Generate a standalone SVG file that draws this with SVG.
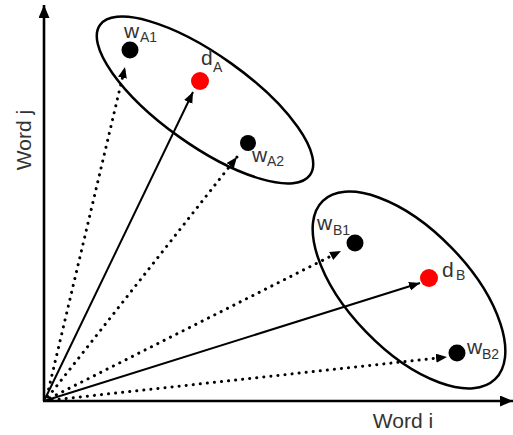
<svg xmlns="http://www.w3.org/2000/svg" width="513" height="435" viewBox="0 0 513 435">
<defs>
<marker id="ah" markerUnits="userSpaceOnUse" markerWidth="12" markerHeight="10" refX="11" refY="4.5" orient="auto">
<path d="M0,0 L11,4.5 L0,9 Z" fill="#000"/>
</marker>
<marker id="axh" markerUnits="userSpaceOnUse" markerWidth="14" markerHeight="12" refX="13" refY="5.5" orient="auto">
<path d="M0,0 L13,5.5 L0,11 Z" fill="#000"/>
</marker>
<style>
.axis{stroke:#000;stroke-width:2.6;fill:none}
.solid{stroke:#000;stroke-width:2;fill:none}
.dot{stroke:#000;stroke-width:3;fill:none;stroke-dasharray:0.1 7;stroke-linecap:round}
.ell{stroke:#000;stroke-width:2.5;fill:none}
.lbl{font-family:"Liberation Sans",Arial,sans-serif;font-size:21px;fill:#333}
.sub{font-family:"Liberation Sans",Arial,sans-serif;font-size:14px;fill:#333}
</style>
</defs>
<rect width="513" height="435" fill="#fff"/>
<g id="axes">
<line class="axis" x1="44" y1="401" x2="44" y2="5" marker-end="url(#axh)"/>
<line class="axis" x1="43" y1="401" x2="513" y2="401" marker-end="url(#axh)"/>
<text class="lbl" transform="translate(31,140) rotate(-90)" text-anchor="middle">Word j</text>
<text class="lbl" x="403" y="428" text-anchor="middle">Word i</text>
</g>
<g id="clusterA">
<ellipse class="ell" cx="205" cy="100" rx="129" ry="45" transform="rotate(35.5 205 100)"/>
</g>
<g id="clusterB">
<ellipse class="ell" cx="409" cy="290" rx="124" ry="60" transform="rotate(46 409 290)"/>
</g>
<g id="wA1"><circle cx="130" cy="50" r="8.5" fill="#000"/><text class="lbl" x="124" y="38">w</text><text class="sub" x="140" y="42">A1</text></g>
<g id="dA"><circle cx="200" cy="81" r="9" fill="#f00"/><text class="lbl" x="201" y="65">d</text><text class="sub" x="213" y="72">A</text></g>
<g id="wA2"><circle cx="248" cy="143" r="8" fill="#000"/><text class="lbl" x="252" y="162">w</text><text class="sub" x="267" y="166">A2</text></g>
<g id="wB1"><circle cx="355" cy="243" r="8.5" fill="#000"/><text class="lbl" x="317" y="230">w</text><text class="sub" x="333" y="235">B1</text></g>
<g id="dB"><circle cx="429" cy="278" r="9" fill="#f00"/><text class="lbl" x="442" y="277">d</text><text class="sub" x="456" y="280">B</text></g>
<g id="wB2"><circle cx="457" cy="353" r="8.5" fill="#000"/><text class="lbl" x="467" y="354">w</text><text class="sub" x="482" y="359">B2</text></g>
<g id="connectors">
<line class="dot" x1="47" y1="396" x2="125" y2="67" marker-end="url(#ah)"/>
<line class="solid" x1="44" y1="401" x2="193" y2="92" marker-end="url(#ah)"/>
<line class="dot" x1="48" y1="397" x2="237" y2="157" marker-end="url(#ah)"/>
<line class="dot" x1="50" y1="398" x2="341" y2="251" marker-end="url(#ah)"/>
<line class="solid" x1="44" y1="401" x2="420" y2="283" marker-end="url(#ah)"/>
<line class="dot" x1="52" y1="400" x2="447" y2="357" marker-end="url(#ah)"/>
</g>
</svg>
